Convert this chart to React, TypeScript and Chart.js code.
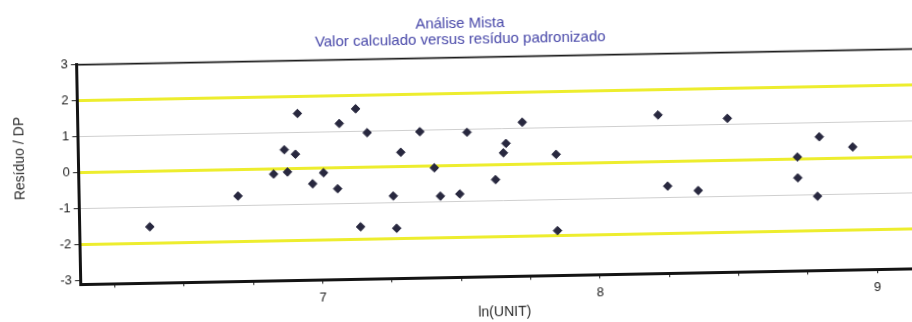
import React, { useEffect, useRef } from 'react';
import { Chart, registerables } from 'chart.js';

Chart.register(...registerables);

// ---- texts ----
const titleLines = ['Análise Mista', 'Valor calculado versus resíduo padronizado'];
const xAxisTitle = 'ln(UNIT)';
const yAxisTitle = 'Resíduo / DP';

// ---- data: ln(UNIT) vs standardized residual ----
const lnUnit = [
  6.38, 6.70, 6.83, 6.88, 6.87, 6.91, 6.92, 6.97, 7.01, 7.06,
  7.07, 7.13, 7.17, 7.14, 7.26, 7.27, 7.29, 7.36, 7.41, 7.43,
  7.50, 7.53, 7.63, 7.66, 7.67, 7.73, 7.85, 7.85, 8.22, 8.25,
  8.36, 8.47, 8.72, 8.72, 8.80, 8.79, 8.92,
];
const residuoDP = [
  -1.54, -0.73, -0.14, -0.09, 0.53, 0.40, 1.53, -0.43, -0.13, -0.58,
  1.23, 1.63, 0.96, -1.65, -0.81, -1.71, 0.40, 0.96, -0.05, -0.84,
  -0.79, 0.92, -0.41, 0.33, 0.59, 1.17, 0.26, -1.86, 1.30, -0.68,
  -0.82, 1.17, 0.06, -0.52, 0.61, -1.04, 0.31,
];

// ---- axes ----
const yTickValues = [-3, -2, -1, 0, 1, 2, 3];
const xMajorTicks = [7, 8, 9];
const xMinorTicks = [6.25, 6.5, 6.75, 7.25, 7.5, 7.75, 8.25, 8.5, 8.75];
const refLevels = [-2, 0, 2];
const gridLevels = [-1, 1];
const xMin = 6.128;
const xMax = 9.18;
const yMin = -3.1;
const yMax = 3;

const FONT = '"Liberation Sans", Arial, Helvetica, sans-serif';

const axisDecor = {
  id: 'axisDecor',
  afterDraw(chart: any) {
    const { ctx, chartArea } = chart;
    ctx.save();
    // top frame line
    ctx.strokeStyle = '#1c1c1c';
    ctx.lineWidth = 1.6;
    ctx.beginPath();
    ctx.moveTo(chartArea.left, chartArea.top);
    ctx.lineTo(chartArea.right, chartArea.top);
    ctx.stroke();
    // y axis title
    ctx.fillStyle = '#2a2a2a';
    ctx.font = `14px ${FONT}`;
    ctx.textAlign = 'center';
    ctx.textBaseline = 'middle';
    ctx.translate(20, (chartArea.top + chartArea.bottom) / 2 - 17);
    ctx.rotate(-Math.PI / 2);
    ctx.fillText(yAxisTitle, 0, 0);
    ctx.restore();
  },
};

export default function App() {
  const canvasRef = useRef<HTMLCanvasElement | null>(null);

  useEffect(() => {
    const canvas = canvasRef.current;
    if (!canvas) return;
    const points = lnUnit.map((x, i) => ({ x, y: residuoDP[i] }));
    const chart = new Chart(canvas, {
      type: 'scatter',
      data: {
        datasets: [
          {
            label: 'Resíduo / DP',
            data: points,
            pointStyle: 'rectRot',
            pointRadius: 4.3,
            pointBorderWidth: 1,
            backgroundColor: '#28283f',
            borderColor: '#28283f',
          },
        ],
      },
      options: {
        animation: false,
        responsive: false,
        devicePixelRatio: 1,
        font: { family: FONT },
        layout: { padding: { left: 0, right: 19, top: 0, bottom: 0 } },
        plugins: {
          legend: { display: false },
          tooltip: { enabled: false },
          title: {
            display: true,
            text: titleLines,
            color: '#4646a8',
            font: { family: FONT, size: 15, lineHeight: 1.05, weight: 'normal' },
            padding: { top: 15.9, bottom: 10.2 },
          },
        },
        scales: {
          x: {
            type: 'linear',
            min: xMin,
            max: xMax,
            afterBuildTicks: (scale: any) => {
              scale.ticks = [...xMinorTicks, ...xMajorTicks]
                .sort((a, b) => a - b)
                .map((v) => ({ value: v }));
            },
            afterFit: (scale: any) => {
              scale.height = 44.8;
            },
            ticks: {
              autoSkip: false,
              maxRotation: 0,
              padding: 6.5,
              color: '#222',
              font: { family: FONT, size: 13 },
              callback: (v: any) => (xMajorTicks.includes(Number(v)) ? String(v) : ''),
            },
            grid: {
              drawOnChartArea: false,
              drawTicks: true,
              tickLength: 4,
              tickWidth: 1,
              tickColor: '#222',
            },
            border: { display: true, color: '#141414', width: 3 },
            title: {
              display: true,
              text: xAxisTitle,
              color: '#2a2a2a',
              font: { family: FONT, size: 14 },
              padding: { top: 0, bottom: 0 },
            },
          },
          y: {
            type: 'linear',
            min: yMin,
            max: yMax,
            afterBuildTicks: (scale: any) => {
              scale.ticks = yTickValues.map((v) => ({ value: v }));
            },
            afterFit: (scale: any) => {
              scale.width = 78.8;
            },
            ticks: {
              autoSkip: false,
              padding: 3,
              color: '#222',
              font: { family: FONT, size: 13 },
              callback: (v: any) => String(v),
            },
            grid: {
              drawOnChartArea: true,
              drawTicks: true,
              tickLength: 6,
              tickWidth: 1,
              tickColor: '#222',
              color: (c: any) => {
                const v = c.tick ? c.tick.value : null;
                if (refLevels.includes(v)) return '#eded2e';
                if (gridLevels.includes(v)) return '#cfcfcf';
                return 'rgba(0,0,0,0)';
              },
              lineWidth: (c: any) => {
                const v = c.tick ? c.tick.value : null;
                return refLevels.includes(v) ? 3 : 1;
              },
            },
            border: { display: true, color: '#141414', width: 3 },
          },
        },
      },
      plugins: [axisDecor],
    } as any);
    return () => chart.destroy();
  }, []);

  return (
    <div
      style={{
        position: 'fixed',
        left: 0,
        top: 0,
        width: 912,
        height: 322,
        overflow: 'hidden',
        background: '#fff',
      }}
    >
      <canvas
        ref={canvasRef}
        width={944}
        height={322}
        style={{
          display: 'block',
          width: 944,
          height: 322,
          transform: 'rotate(-1.08deg)',
          transformOrigin: '456px 161px',
        }}
      />
    </div>
  );
}
